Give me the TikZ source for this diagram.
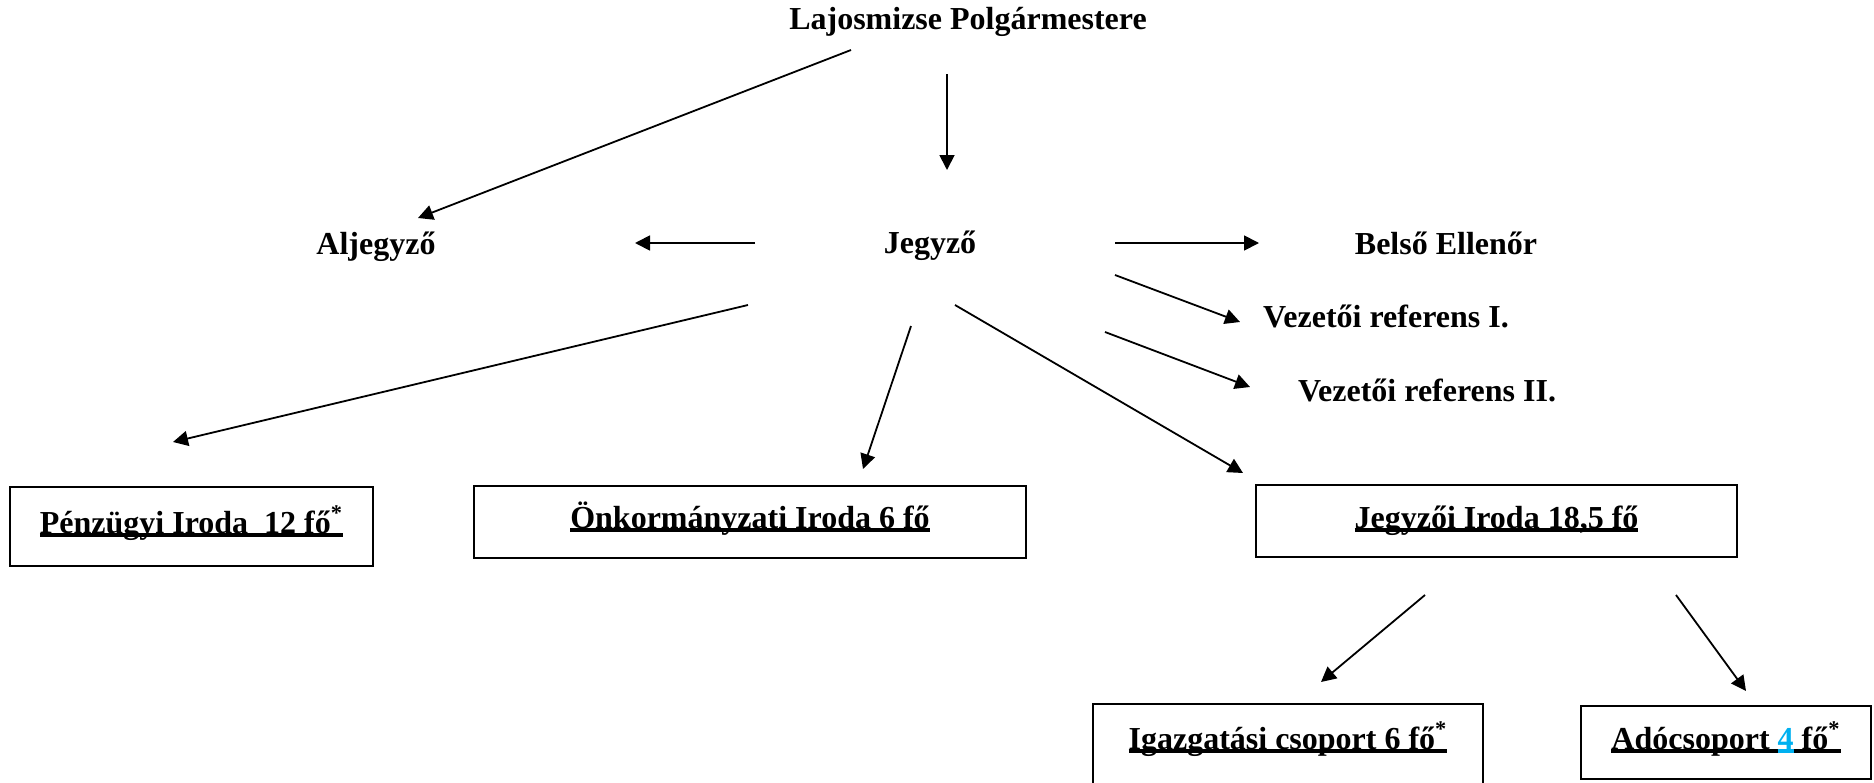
\documentclass[tikz,border=0pt]{standalone}
\usepackage{fontspec}
\setmainfont{Liberation Serif}
\usetikzlibrary{arrows.meta}
\definecolor{ado_kek}{HTML}{00B0F0}
\newcommand{\alahuz}[2][black]{\setbox0\hbox{{#2}}\leavevmode\rlap{\textcolor{#1}{\rule[-2.2pt]{\wd0}{2pt}}}\box0}

\begin{document}
\begin{tikzpicture}[x=0.5pt, y=-0.5pt, -{Triangle[length=7.5pt,width=7.5pt]}, line width=0.9pt,
cim/.style = { font = \bfseries\fontsize{16}{19}\selectfont, anchor = base, inner sep = 0pt },
iroda/.style = { draw, line width = 1pt, anchor = north west, inner sep = 0pt,
  font = \bfseries\fontsize{16}{19}\selectfont, text depth = 15pt, text height = 21pt },
arc_ori/.style = { color = black }]
\useasboundingbox (0,0) rectangle (1874,782);
% szemelyek
\node[cim] (polg) at (968,29) {Lajosmizse Polgármestere};
\node[cim] (alj) at (376,254) {Aljegyző};
\node[cim] (jegyzo) at (930,253) {Jegyző};
\node[cim] (belso) at (1446,254) {Belső Ellenőr};
\node[cim] (vez1) at (1386,327) {Vezetői referens I.};
\node[cim] (vez2) at (1427,401) {Vezetői referens II.};
% irodak
\node[iroda, minimum width = 181.5pt, text height = 23pt, text depth = 16.5pt] (penz) at (9,486)
  {\alahuz{Pénzügyi Iroda\ \ 12 fő\textsuperscript{*}}};
\node[iroda, minimum width = 276pt] (onk) at (473,485) {\alahuz{Önkormányzati Iroda 6 fő}};
\node[iroda, minimum width = 240.5pt, text height = 21.5pt, text depth = 14.5pt] (jiroda) at (1255,484)
  {\alahuz{Jegyzői Iroda 18,5 fő}};
\node[iroda, minimum width = 195pt, text height = 22.5pt, text depth = 19pt] (igazg) at (1092,703)
  {\alahuz{Igazgatási csoport 6 fő\textsuperscript{*}}};
\node[iroda, minimum width = 145pt, text height = 21.5pt, text depth = 15pt] (ado) at (1580,705)
  {\alahuz{Adócsoport }\alahuz[ado_kek]{\color{ado_kek}4}\alahuz{ fő\textsuperscript{*}}};
% nyilak vegpontjai
\coordinate (a1s) at (851,50);   \coordinate (a1e) at (418,218);
\coordinate (a2s) at (947,74);   \coordinate (a2e) at (947,170);
\coordinate (a3s) at (755,243);  \coordinate (a3e) at (635,243);
\coordinate (a4s) at (1115,243); \coordinate (a4e) at (1259,243);
\coordinate (a5s) at (1115,275); \coordinate (a5e) at (1240,322);
\coordinate (a6s) at (1105,332); \coordinate (a6e) at (1250,387);
\coordinate (a7s) at (748,305);  \coordinate (a7e) at (173,442);
\coordinate (a8s) at (911,326);  \coordinate (a8e) at (863,469);
\coordinate (a9s) at (955,305);  \coordinate (a9e) at (1243,473);
\coordinate (a10s) at (1425,595); \coordinate (a10e) at (1321,682);
\coordinate (a11s) at (1676,595); \coordinate (a11e) at (1746,691);
\path[arc_ori](a1s) edge (a1e);
\path[arc_ori](a2s) edge (a2e);
\path[arc_ori](a3s) edge (a3e);
\path[arc_ori](a4s) edge (a4e);
\path[arc_ori](a5s) edge (a5e);
\path[arc_ori](a6s) edge (a6e);
\path[arc_ori](a7s) edge (a7e);
\path[arc_ori](a8s) edge (a8e);
\path[arc_ori](a9s) edge (a9e);
\path[arc_ori](a10s) edge (a10e);
\path[arc_ori](a11s) edge (a11e);
\end{tikzpicture}
\end{document}
